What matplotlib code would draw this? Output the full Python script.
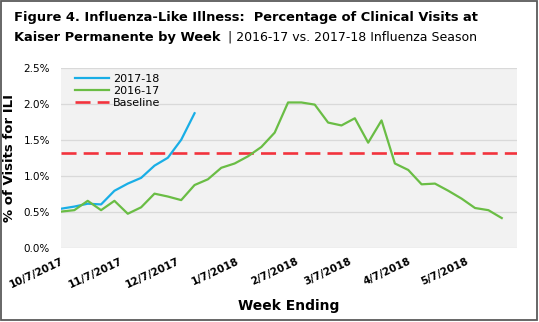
import matplotlib
matplotlib.use("Agg")
import matplotlib.pyplot as plt
import matplotlib.dates as mdates
from matplotlib.patches import Rectangle
import numpy as np

# week-ending dates (2017-18 season calendar)
weeks = np.array([
    "2017-10-07", "2017-10-14", "2017-10-21", "2017-10-28",
    "2017-11-04", "2017-11-11", "2017-11-18", "2017-11-25",
    "2017-12-02", "2017-12-09", "2017-12-16", "2017-12-23", "2017-12-30",
    "2018-01-06", "2018-01-13", "2018-01-20", "2018-01-27",
    "2018-02-03", "2018-02-10", "2018-02-17", "2018-02-24",
    "2018-03-03", "2018-03-10", "2018-03-17", "2018-03-24", "2018-03-31",
    "2018-04-07", "2018-04-14", "2018-04-21", "2018-04-28",
    "2018-05-05", "2018-05-12", "2018-05-19", "2018-05-26",
], dtype="datetime64[D]")

# % of visits for ILI
ili_2017_18 = [0.54, 0.57, 0.61, 0.60, 0.79, 0.89, 0.97, 1.14, 1.25, 1.50, 1.87]
ili_2016_17 = [0.50, 0.52, 0.65, 0.52, 0.65, 0.47, 0.56, 0.75, 0.71, 0.66,
               0.87, 0.95, 1.11, 1.17, 1.27, 1.40, 1.60, 2.02, 2.02, 1.99,
               1.74, 1.70, 1.80, 1.46, 1.77, 1.17, 1.08, 0.88, 0.89, 0.79,
               0.68, 0.55, 0.52, 0.41]
baseline = 1.31

xtick_dates = np.array(["2017-10-07", "2017-11-07", "2017-12-07", "2018-01-07",
                        "2018-02-07", "2018-03-07", "2018-04-07", "2018-05-07"],
                       dtype="datetime64[D]")
xtick_labels = ["10/7/2017", "11/7/2017", "12/7/2017", "1/7/2018",
                "2/7/2018", "3/7/2018", "4/7/2018", "5/7/2018"]
yticks = [0.0, 0.5, 1.0, 1.5, 2.0, 2.5]
ytick_labels = ["0.0%", "0.5%", "1.0%", "1.5%", "2.0%", "2.5%"]

plt.rcParams["font.family"] = "DejaVu Sans"

fig = plt.figure(figsize=(5.39, 3.22), dpi=100)
ax = fig.add_axes([61 / 539, 1 - 247.5 / 322, 456 / 539, 179.5 / 322])
ax.set_facecolor("#F2F2F2")

x17 = mdates.date2num(weeks[:len(ili_2017_18)])
x16 = mdates.date2num(weeks[:len(ili_2016_17)])
ax.plot(x17, ili_2017_18, color="#19AEE6", lw=1.6, label="2017-18", zorder=3)
ax.plot(x16, ili_2016_17, color="#6ABD45", lw=1.6, label="2016-17", zorder=3)
ax.axhline(baseline, color="#F2333D", lw=1.9, ls=(0, (5.7, 2.7)), label="Baseline", zorder=2)

ax.set_xlim(mdates.date2num(np.datetime64("2017-10-07")),
            mdates.date2num(np.datetime64("2018-06-03")))
ax.set_ylim(0, 2.5)
ax.set_yticks(yticks)
ax.set_yticklabels(ytick_labels, fontsize=7.5)
ax.set_xticks(mdates.date2num(xtick_dates))
ax.set_xticklabels(xtick_labels, fontsize=7.5, fontweight="bold", rotation=25,
                   ha="right", va="top", rotation_mode="anchor")
ax.tick_params(axis="both", length=0)
ax.tick_params(axis="y", pad=8)
ax.tick_params(axis="x", pad=6)
ax.grid(axis="y", color="#D9D9D9", lw=0.9)
ax.set_axisbelow(True)
for s in ax.spines.values():
    s.set_visible(False)

ax.set_ylabel("% of Visits for ILI", fontsize=9.5, fontweight="bold")
ax.yaxis.set_label_coords(-45 / 456, 0.5)
ax.set_xlabel("Week Ending", fontsize=10, fontweight="bold", labelpad=7)

ax.legend(loc="upper left", frameon=False, fontsize=8, handlelength=3.1,
          handletextpad=0.35, labelspacing=0.15, borderaxespad=0.0,
          bbox_to_anchor=(0.02, 0.99))

fig.text(14 / 539, 1 - 18 / 322,
         "Figure 4. Influenza-Like Illness:  Percentage of Clinical Visits at",
         fontsize=9.4, fontweight="bold", va="center", ha="left")
fig.text(14 / 539, 1 - 37 / 322, "Kaiser Permanente by Week",
         fontsize=9.4, fontweight="bold", va="center", ha="left")
fig.text(228 / 539, 1 - 37 / 322, "| 2016-17 vs. 2017-18 Influenza Season",
         fontsize=9, va="center", ha="left")

fig.patches.append(Rectangle((0.5 / 539, 2.5 / 322), 536.5 / 539, 319 / 322,
                             transform=fig.transFigure, fill=False,
                             edgecolor="#5A5A5A", lw=1.3))

fig.savefig("out.png", dpi=100)
